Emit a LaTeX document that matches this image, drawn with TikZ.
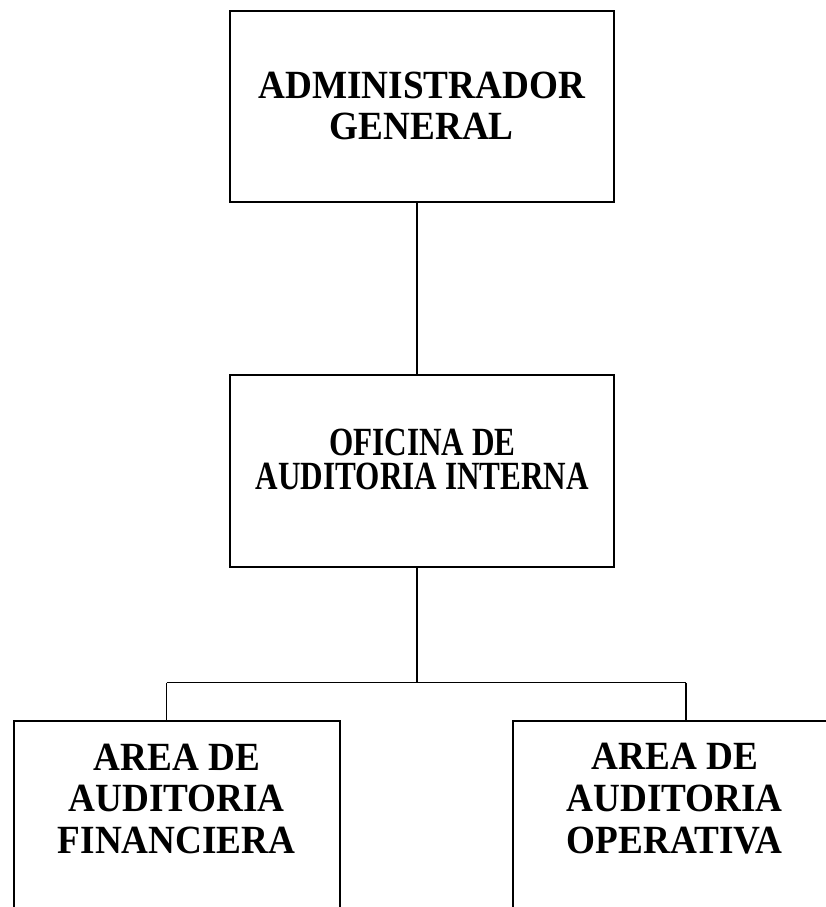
\documentclass[tikz,border=0pt]{standalone}
\usepackage{fontspec}
\setmainfont{Liberation Serif}
\newfontfamily\wideTNR[FakeStretch=0.93]{Liberation Serif}
\newfontfamily\narrowTNR[FakeStretch=0.78]{Liberation Serif}
\begin{document}
\begin{tikzpicture}[x=1pt,y=-1pt,
  box/.style={draw,line width=2pt,inner sep=0pt,outer sep=0pt},
  conn/.style={line width=1.3pt},
  lbl/.style={align=center,inner sep=0pt,outer sep=0pt,
    font=\wideTNR\bfseries\fontsize{40}{41.7}\selectfont},
  lblnarrow/.style={align=center,inner sep=0pt,outer sep=0pt,
    font=\narrowTNR\bfseries\fontsize{40}{34}\selectfont}
]
\useasboundingbox (0,0) rectangle (826,907);
\clip (0,0) rectangle (826,907);

% boxes
\node[box,minimum width=384.5pt,minimum height=191pt] (adm) at (421.75,106.2) {};
\node[box,minimum width=384pt,minimum height=191.7pt] (ofi) at (422,470.85) {};
\node[box,minimum width=326pt,minimum height=279.3pt] (fin) at (177,860.35) {};
\node[box,minimum width=324pt,minimum height=279.3pt] (ope) at (674.7,860.35) {};

% labels
\node[lbl] (admt) at (421.7,106) {ADMINISTRADOR\\GENERAL};
\node[lblnarrow] (ofit) at (422.5,459.5) {OFICINA DE\\AUDITORIA INTERNA};
\node[lbl] (fint) at (176.7,798.7) {AREA DE\\AUDITORIA\\FINANCIERA};
\node[lbl] (opet) at (674.7,798.7) {AREA DE\\AUDITORIA\\OPERATIVA};

% connectors
\coordinate (trunk) at (417,0);
\coordinate (bus) at (417,682.7);
\coordinate (lft) at (166.7,682.7);
\coordinate (rgt) at (686,682.7);
\draw[conn] (adm.south -| trunk) -- (ofi.north -| trunk);
\draw[conn] (ofi.south -| bus) -- (bus);
\draw[conn] (lft) -- (rgt);
\draw[conn] (lft) -- (lft |- fin.north);
\draw[conn] (rgt) -- (rgt |- ope.north);
\end{tikzpicture}
\end{document}
